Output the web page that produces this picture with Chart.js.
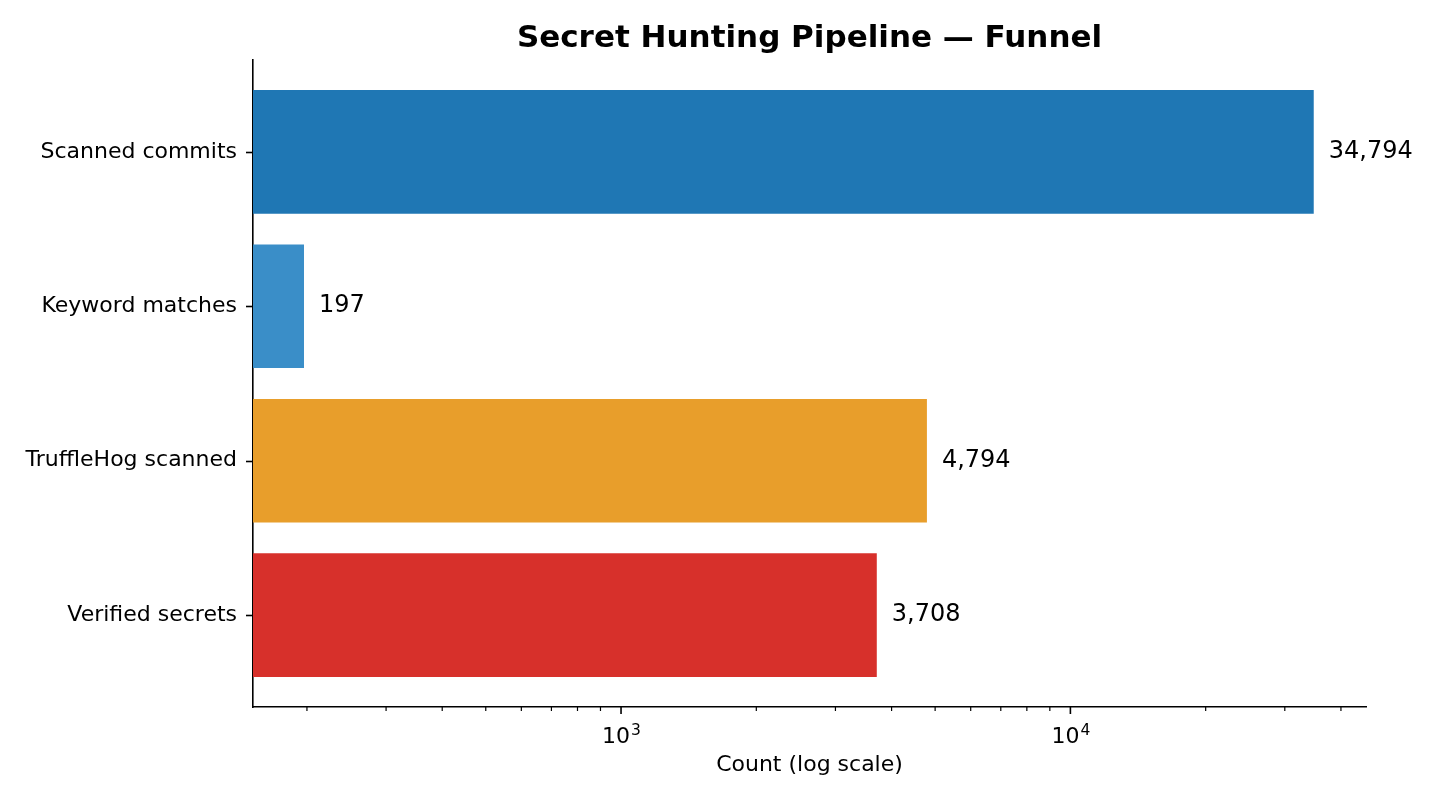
<!DOCTYPE html>
<html>
<head>
<meta charset="utf-8">
<script src="https://cdn.jsdelivr.net/npm/chart.js@4/dist/chart.umd.min.js"></script>
<style>
  html, body { margin: 0; padding: 0; background: #fff; }
  #wrap { width: 1440px; height: 800px; }
</style>
</head>
<body>
<div id="wrap"><canvas id="funnel" width="1440" height="800"></canvas></div>
<script>
// ---- data ----
const stages   = ['Scanned commits', 'Keyword matches', 'TruffleHog scanned', 'Verified secrets'];
const counts   = [34794, 197, 4794, 3708];
const colors   = ['#1f77b4', '#3a8ec8', '#e89e2b', '#d7302b'];
const majorTicks = [1000, 10000];
const minorTicks = [200, 300, 400, 500, 600, 700, 800, 900,
                    2000, 3000, 4000, 5000, 6000, 7000, 8000, 9000,
                    20000, 30000, 40000];

const FONT = 'DejaVu Sans';

// tick marks, tick labels with superscripts, value labels, titles
const extras = {
  id: 'extras',
  afterDraw(chart) {
    const ctx = chart.ctx;
    const area = chart.chartArea;
    const xs = chart.scales.x, ys = chart.scales.y;
    ctx.save();
    ctx.strokeStyle = '#000';
    ctx.fillStyle = '#000';
    // y ticks
    ctx.lineWidth = 1.6;
    stages.forEach((s, i) => {
      const y = Math.round(ys.getPixelForValue(i)) + 0.5;
      ctx.beginPath(); ctx.moveTo(area.left - 7, y); ctx.lineTo(area.left, y); ctx.stroke();
    });
    // x ticks
    majorTicks.forEach(v => {
      const x = xs.getPixelForValue(v);
      ctx.beginPath(); ctx.moveTo(x, area.bottom); ctx.lineTo(x, area.bottom + 7); ctx.stroke();
    });
    ctx.lineWidth = 1.2;
    minorTicks.forEach(v => {
      const x = xs.getPixelForValue(v);
      ctx.beginPath(); ctx.moveTo(x, area.bottom); ctx.lineTo(x, area.bottom + 4); ctx.stroke();
    });

    // x tick labels 10^n
    ctx.textAlign = 'left';
    ctx.textBaseline = 'alphabetic';
    majorTicks.forEach(v => {
      const x = xs.getPixelForValue(v);
      const exp = String(Math.round(Math.log10(v)));
      ctx.font = `22px "${FONT}"`;
      const wBase = ctx.measureText('10').width;
      ctx.font = `15.5px "${FONT}"`;
      const wExp = ctx.measureText(exp).width;
      const x0 = x - (wBase + wExp) / 2;
      ctx.font = `22px "${FONT}"`;
      ctx.fillText('10', x0, area.bottom + 36);
      ctx.font = `15.5px "${FONT}"`;
      ctx.fillText(exp, x0 + wBase + 1, area.bottom + 28);
    });

    // x axis title
    ctx.font = `22px "${FONT}"`;
    ctx.textAlign = 'center';
    ctx.fillText('Count (log scale)', (area.left + area.right) / 2, area.bottom + 64);

    // value labels
    ctx.font = `24px "${FONT}"`;
    ctx.textAlign = 'left';
    chart.getDatasetMeta(0).data.forEach((bar, i) => {
      ctx.fillText(counts[i].toLocaleString('en-US'), bar.x + 15, bar.y + 6);
    });

    // title
    ctx.font = `bold 31px "${FONT}"`;
    ctx.textAlign = 'center';
    ctx.fillText('Secret Hunting Pipeline \u2014 Funnel', (area.left + area.right) / 2, 47);
    ctx.restore();
  }
};

new Chart(document.getElementById('funnel'), {
  type: 'bar',
  data: {
    datasets: [{
      data: counts.map((c, i) => ({ x: c, y: i })),
      backgroundColor: colors,
      borderWidth: 0,
      barPercentage: 0.8,
      categoryPercentage: 1.0
    }]
  },
  options: {
    indexAxis: 'y',
    responsive: false,
    animation: false,
    layout: { padding: { top: 60, right: 74, left: 0, bottom: 0 } },
    plugins: { legend: { display: false }, tooltip: { enabled: false } },
    scales: {
      x: {
        type: 'logarithmic',
        min: 151.7,
        max: 45480,
        afterBuildTicks: axis => {
          axis.ticks = [...minorTicks, ...majorTicks].sort((a, b) => a - b)
            .map(v => ({ value: v, major: majorTicks.includes(v) }));
        },
        afterFit: axis => { axis.height = 93; },
        grid: { display: false, drawTicks: false },
        border: { display: true, color: '#000', width: 1.6 },
        ticks: { display: false }
      },
      y: {
        type: 'linear',
        reverse: true,
        offset: false,
        grace: 0,
        min: -0.595,
        max: 3.595,
        afterBuildTicks: axis => { axis.ticks = stages.map((s, i) => ({ value: i })); },
        afterFit: axis => { axis.width = 253; },
        grid: { display: false, drawTicks: false },
        border: { display: true, color: '#000', width: 1.6 },
        ticks: {
          autoSkip: false,
          padding: 16,
          color: '#000',
          font: { family: '"DejaVu Sans"', size: 22 },
          callback: v => stages[v] ?? ''
        }
      }
    }
  },
  plugins: [extras]
});
</script>
</body>
</html>
